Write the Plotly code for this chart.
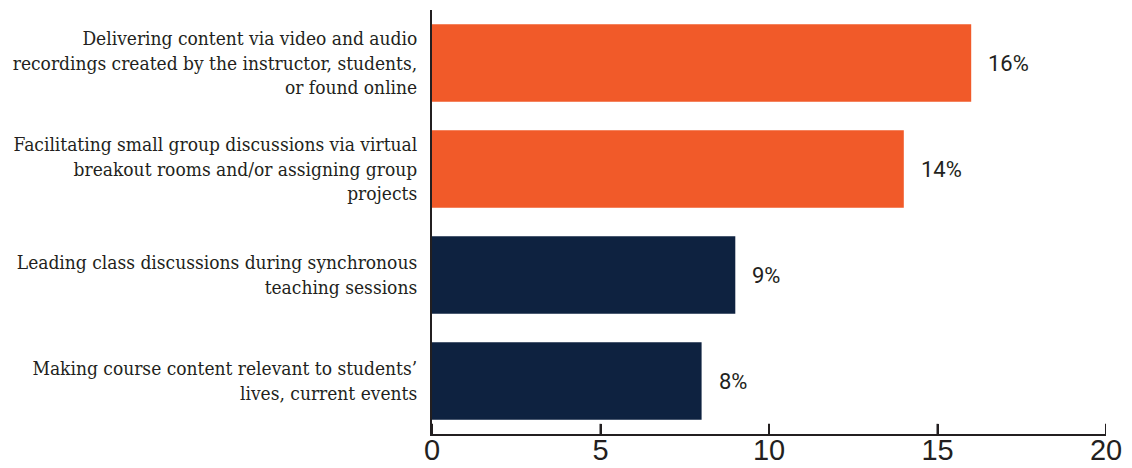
import plotly.graph_objects as go

# Survey items (top to bottom) and share of respondents (%)
categories = [
    "Delivering content via video and audio<br>recordings created by the instructor, students,<br>or found online",
    "Facilitating small group discussions via virtual<br>breakout rooms and/or assigning group<br>projects",
    "Leading class discussions during synchronous<br>teaching sessions",
    "Making course content relevant to students’<br>lives, current events",
]
values = [16, 14, 9, 8]
value_labels = ["16%", "14%", "9%", "8%"]
bar_colors = ["#F15A29", "#F15A29", "#0E2240", "#0E2240"]
x_ticks = [0, 5, 10, 15, 20]

AXIS_COLOR = "#231F20"

fig = go.Figure()
fig.add_trace(go.Bar(
    x=values,
    y=categories,
    orientation="h",
    marker=dict(color=bar_colors, line=dict(width=0)),
    width=0.73,
    hoverinfo="skip",
))

for cat, val, lab in zip(categories, values, value_labels):
    fig.add_annotation(
        x=val, y=cat, text=lab, showarrow=False,
        xanchor="left", yanchor="middle", xshift=15,
        font=dict(family="Roboto", size=22, color=AXIS_COLOR),
    )

# upward tick marks on the value axis
for t in x_ticks:
    fig.add_shape(
        type="line", xref="x", yref="y domain",
        x0=t, x1=t, y0=0, y1=0.024,
        line=dict(color=AXIS_COLOR, width=2),
        layer="above",
    )

fig.update_layout(
    width=1132, height=468,
    margin=dict(l=432, r=26, t=10, b=34, autoexpand=False),
    paper_bgcolor="white", plot_bgcolor="white",
    showlegend=False,
)
fig.update_xaxes(
    range=[0, 20], tickmode="array", tickvals=x_ticks,
    ticktext=[str(t) for t in x_ticks],
    showgrid=False, zeroline=False,
    showline=True, linecolor=AXIS_COLOR, linewidth=2,
    ticks="inside", ticklen=10, tickwidth=2, tickcolor=AXIS_COLOR,
    ticklabelstandoff=-11,
    tickfont=dict(family="Liberation Sans Narrow, Arial Narrow, sans-serif", size=29, color=AXIS_COLOR),
    automargin=False,
    fixedrange=True,
)
fig.update_yaxes(
    categoryorder="array", categoryarray=categories[::-1],
    range=[-0.5, 3.5],
    showgrid=False, zeroline=False,
    showline=True, linecolor=AXIS_COLOR, linewidth=2,
    ticks="", ticklabelstandoff=9,
    tickfont=dict(family="DejaVu Serif Condensed, DejaVu Serif", size=19, color=AXIS_COLOR),
    automargin=False,
    fixedrange=True,
)

fig.write_html("out.html", config={"displayModeBar": False})
